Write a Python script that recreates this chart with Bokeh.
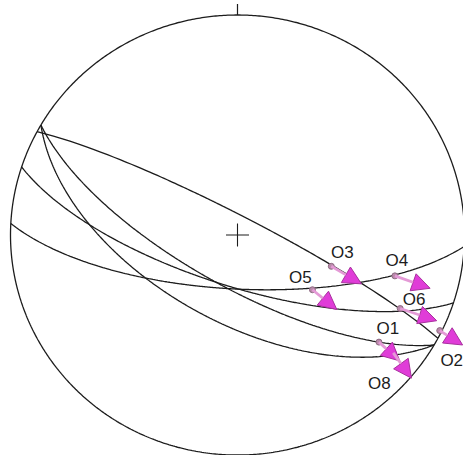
import numpy as np
from bokeh.plotting import figure
from bokeh.models import ColumnDataSource, Arrow, NormalHead
from bokeh.core.properties import value
from bokeh.embed import file_html
from bokeh.resources import INLINE

# ---- data: fault planes (dip direction / dip, degrees) ----
plane_dipdir = [183, 198, 28, 210, 210]
plane_dip = [70, 71, 83, 71, 58]

# ---- data: striations (trend / plunge) and slip sense ----
lin_labels = ["O3", "O4", "O5", "O6", "O2", "O1", "O8"]
lin_trend = [109, 105, 127, 115, 116, 128, 128]
lin_plunge = [54, 29, 56, 22, 1, 22, 14]
slip_azimuth = [121, 110, 130, 109, 123, 133, 145]
slip_length = [0.155, 0.165, 0.14, 0.17, 0.12, 0.125, 0.14]

# label placement (screen px offsets from the striation point; layout only)
label_dx = [11, 2, -12, 14, 12, 9, -14]
label_dy = [-14, -15, -12, -9, 30, -14, 31]

SX, SY = 227.0, 220.0  # px per net radius
CX, CY = 237.0, 234.5  # net centre in px

W, H = 463, 455
x0 = (0 - CX) / SX
x1 = (W - CX) / SX
y1 = (CY - 0) / SY
y0 = (CY - H) / SY


def proj(trend, plunge):
    t = np.radians(trend)
    r = np.sqrt(2.0) * np.sin(np.radians(90.0 - np.asarray(plunge)) / 2.0)
    return r * np.sin(t), r * np.cos(t)


p = figure(width=W, height=H, x_range=(x0, x1), y_range=(y0, y1),
           output_backend="svg", toolbar_location=None, min_border=0,
           outline_line_color=None, background_fill_color="white",
           border_fill_color="white")
p.axis.visible = False
p.grid.visible = False

# primitive circle
th = np.linspace(0, 2 * np.pi, 721)
p.line(np.cos(th), np.sin(th), line_color="#1c1c1c", line_width=1.3)
# north / south ticks
p.segment(x0=[0, 0], y0=[1, -1], x1=[0, 0], y1=[1 + 11 / SY, -1 - 11 / SY],
          line_color="#1c1c1c", line_width=1.2)
# centre cross
p.scatter([0], [0], marker="cross", size=23, line_color="#1c1c1c", line_width=1.1)

# great circles
for dd, dip in zip(plane_dipdir, plane_dip):
    az = np.linspace(dd - 90, dd + 90, 361)
    pl = np.degrees(np.arctan(np.tan(np.radians(dip)) * np.cos(np.radians(az - dd))))
    gx, gy = proj(az, pl)
    p.line(gx, gy, line_color="#1c1c1c", line_width=1.3)

# striations & slip arrows
lx, ly = proj(np.array(lin_trend), np.array(lin_plunge))
sa = np.radians(slip_azimuth)
ex = lx + np.array(slip_length) * np.sin(sa)
ey = ly + np.array(slip_length) * np.cos(sa)
asrc = ColumnDataSource(dict(x0=lx, y0=ly, x1=ex, y1=ey))
p.add_layout(Arrow(source=asrc, x_start="x0", y_start="y0", x_end="x1", y_end="y1",
                   line_color="#E49AD6", line_width=2.8,
                   end=NormalHead(size=18, fill_color="#E03CD8",
                                  line_color="#A8309E", line_width=1)))
p.scatter(lx, ly, size=6, fill_color="#B98AAA", line_color="#8E6A82", line_width=1)

# labels
tx = lx + np.array(label_dx) / SX
ty = ly - np.array(label_dy) / SY
p.text(tx, ty, text=lin_labels, text_font=value("Liberation Sans"),
       text_font_size="17px", text_align="center", text_baseline="middle",
       text_color="#1c1c1c")

open("out.html", "w").write(file_html(p, INLINE))
